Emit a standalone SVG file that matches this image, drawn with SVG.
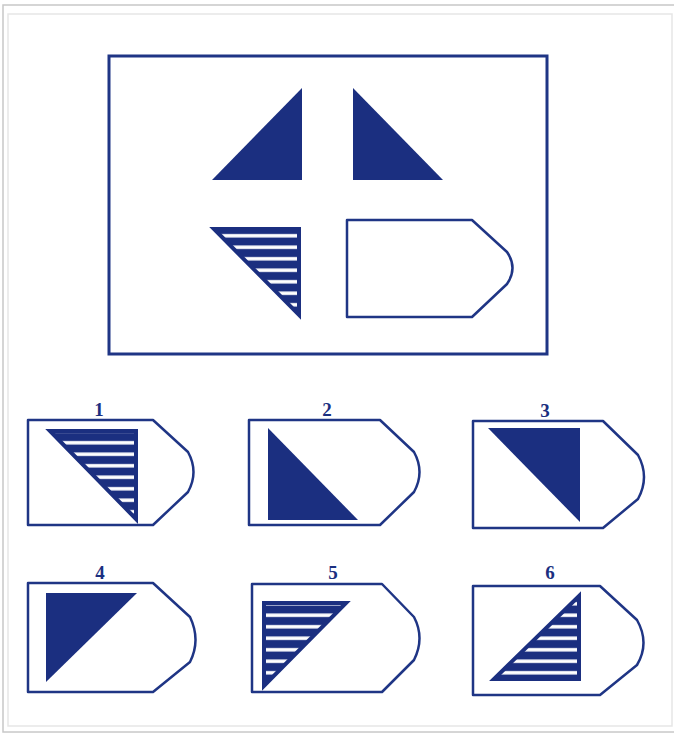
<svg xmlns="http://www.w3.org/2000/svg" width="674" height="735" viewBox="0 0 674 735">
<style>
.frame{fill:none;stroke:#c8c8c8;stroke-width:1.5}
.frame2{fill:none;stroke:#e6e6e6;stroke-width:1.5}
.box{fill:none;stroke:#1f3585;stroke-width:3}
.tag{fill:#fff;stroke:#1f3585;stroke-width:2.5;stroke-linejoin:round}
.solid{fill:#1b2f80}
.hatch{fill:url(#stripes);stroke:#1b2f80;stroke-width:4;stroke-linejoin:miter}
.lbl{font-family:"Liberation Serif",serif;font-weight:bold;font-size:19px;fill:#1b2f80;text-anchor:middle}
</style>
<defs>
<pattern id="stripes" patternUnits="userSpaceOnUse" width="20" height="11.5">
<rect width="20" height="11.5" fill="#1b2f80"/>
<rect y="4" width="20" height="3.5" fill="#fff"/>
</pattern>
</defs>
<rect width="674" height="735" fill="#fff"/>
<rect class="frame" x="3" y="5" width="680" height="727"/>
<rect class="frame2" x="8" y="14" width="664" height="712"/>
<g id="question">
<rect class="box" x="109" y="56" width="438" height="298"/>
<polygon class="solid" points="302,88 302,180 212,180"/>
<polygon class="solid" points="353,88 353,180 443,180"/>
<polygon class="hatch" points="214,229 299,229 299,315"/>
<path class="tag" d="M347,220 H472 L507,252 Q518,268 507,284 L472,317 H347 Z"/>
</g>
<g id="opt1">
<text class="lbl" x="99" y="416">1</text>
<path class="tag" d="M28,420 H153 L188,452 Q199,472 188,492 L153,525 H28 Z"/>
<polygon class="hatch" points="50,431 136,431 136,519"/>
</g>
<g id="opt2">
<text class="lbl" x="327" y="416">2</text>
<path class="tag" d="M249,420 H380 L414,452 Q425,472 414,492 L380,525 H249 Z"/>
<polygon class="solid" points="268,428 268,520 358,520"/>
</g>
<g id="opt3">
<text class="lbl" x="545" y="417">3</text>
<path class="tag" d="M473,421 H603 L638,455 Q650,477 638,499 L603,528 H473 Z"/>
<polygon class="solid" points="488,428 580,428 580,522"/>
</g>
<g id="opt4">
<text class="lbl" x="100" y="579">4</text>
<path class="tag" d="M28,583 H153 L190,617 Q201,640 190,662 L153,692 H28 Z"/>
<polygon class="solid" points="46,593 137,593 46,682"/>
</g>
<g id="opt5">
<text class="lbl" x="333" y="579">5</text>
<path class="tag" d="M252,584 H382 L414,617 Q425,638 414,660 L382,692 H252 Z"/>
<polygon class="hatch" points="264,603 346,603 264,686"/>
</g>
<g id="opt6">
<text class="lbl" x="550" y="579">6</text>
<path class="tag" d="M473,586 H600 L637,620 Q650,643 637,665 L600,695 H473 Z"/>
<polygon class="hatch" points="579,596 579,679 494,679"/>
</g>
</svg>
